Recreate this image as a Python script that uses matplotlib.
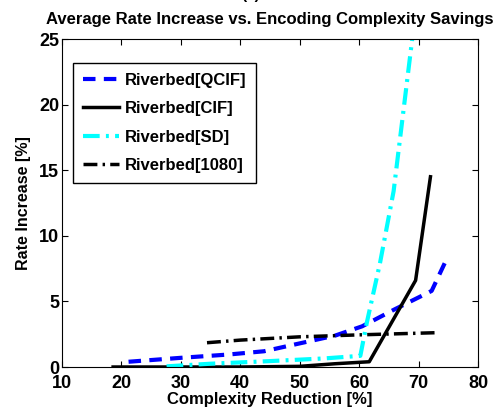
import matplotlib
matplotlib.use('Agg')
import matplotlib.pyplot as plt

plt.rcParams['font.family'] = ['Liberation Sans', 'DejaVu Sans']
plt.rcParams['font.weight'] = 'bold'

# data
qcif_x = [21.2, 30, 38, 44, 50, 56, 60.5, 66, 72.2, 74.8]
qcif_y = [0.4, 0.7, 0.95, 1.2, 1.8, 2.4, 3.1, 4.4, 5.8, 8.3]

cif_x = [18.6, 30, 40, 50, 56, 61.7, 69.5, 72.0]
cif_y = [0.0, 0.0, 0.0, 0.05, 0.25, 0.4, 6.6, 14.5]

sd_x = [27.6, 35, 45, 54, 60.2, 61.3, 63.5, 65.8, 69.2]
sd_y = [0.05, 0.25, 0.45, 0.65, 0.85, 3.4, 7.9, 13.4, 26.0]

hd_x = [34.4, 40, 50, 60, 73.4]
hd_y = [1.85, 2.05, 2.3, 2.45, 2.62]

labels = ['Riverbed[QCIF]', 'Riverbed[CIF]', 'Riverbed[SD]', 'Riverbed[1080]']

fig = plt.figure(figsize=(5.01, 4.09), dpi=100)
ax = fig.add_axes([62/501, 1-367/409, 416/501, 328/409])

ax.plot(qcif_x, qcif_y, color='blue', ls=(0, (3, 2)), lw=3, label=labels[0])
ax.plot(cif_x, cif_y, color='black', ls='-', lw=2.5, label=labels[1])
ax.plot(sd_x, sd_y, color='cyan', ls=(0, (4, 1.5, 0.7, 1.5)), lw=3, label=labels[2])
ax.plot(hd_x, hd_y, color='black', ls=(0, (4, 1.5, 0.7, 1.5)), lw=2.5, label=labels[3])

ax.set_xlim(10, 80)
ax.set_ylim(0, 25)
ax.set_xticks([10, 20, 30, 40, 50, 60, 70, 80])
ax.set_yticks([0, 5, 10, 15, 20, 25])
ax.tick_params(direction='in', top=True, right=True, labelsize=13, length=4)
ax.tick_params(axis='x', pad=6)
ax.tick_params(axis='y', pad=2)
for lab in ax.get_xticklabels() + ax.get_yticklabels():
    lab.set_fontweight('bold')

ax.set_xlabel('Complexity Reduction [%]', fontsize=12, fontweight='bold', labelpad=0)
ax.set_ylabel('Rate Increase [%]', fontsize=11.5, fontweight='bold', labelpad=6)
ax.set_title('Average Rate Increase vs. Encoding Complexity Savings', fontsize=12,
             fontweight='bold', pad=11)
fig.text(0.5, 1.012, '(a)', ha='center', va='center', fontsize=11, fontweight='bold')

leg = ax.legend(loc='upper left', bbox_to_anchor=(0.026, 0.927), borderaxespad=0,
                fontsize=12, fancybox=False, edgecolor='black', framealpha=1,
                handlelength=2.2, handletextpad=0.3, labelspacing=0.8,
                borderpad=0.6)
leg.get_frame().set_linewidth(1)
for t in leg.get_texts():
    t.set_fontweight('bold')

fig.savefig('out.png', dpi=100)
